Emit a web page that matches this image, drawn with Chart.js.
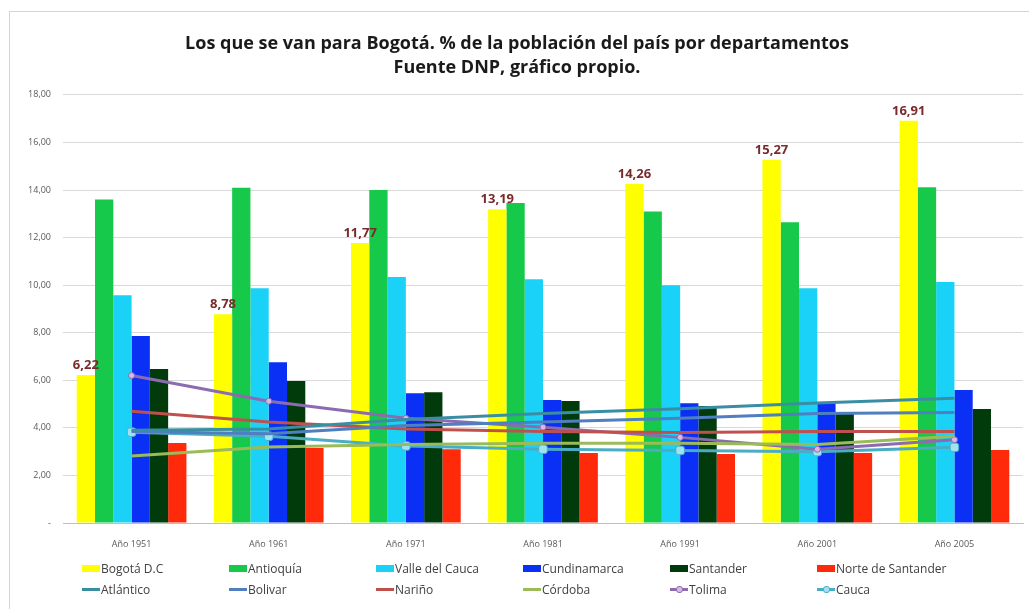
<!DOCTYPE html>
<html>
<head>
<meta charset="utf-8">
<script src="https://cdn.jsdelivr.net/npm/chart.js@4.4.1/dist/chart.umd.min.js"></script>
<style>
  html, body { margin: 0; padding: 0; background: #fff; }
  #wrap { position: relative; width: 1029px; height: 609px; overflow: hidden; }
  #frame { position: absolute; left: 9px; top: 11px; width: 1040px; height: 620px; border: 1px solid #d4d4d4; box-sizing: border-box; }
  canvas { position: absolute; left: 0; top: 0; }
  #legend { position: absolute; left: 82px; top: 560px; display: grid; grid-template-columns: repeat(6, 147px); row-gap: 5px;
            font-family: "Open Sans", sans-serif; font-size: 12px; color: #404040; }
  .item { display: flex; align-items: center; height: 16px; white-space: nowrap; }
  .sw { width: 18px; height: 7px; margin-right: 1px; position: relative; }
  .ln { width: 18px; height: 3px; margin-right: 1px; position: relative; }
  .mk { position: absolute; left: 6px; top: -2px; width: 5px; height: 5px; border-radius: 3px; }
</style>
</head>
<body>
<div id="wrap">
  <div id="frame"></div>
  <canvas id="chart" width="1029" height="609"></canvas>
  <div id="legend"></div>
</div>
<script>
// categories
const years = ["Año 1951", "Año 1961", "Año 1971", "Año 1981", "Año 1991", "Año 2001", "Año 2005"];

// bar series (% of the country's population)
const bogota = [6.22, 8.78, 11.77, 13.19, 14.26, 15.27, 16.91];
const antioquia = [13.6, 14.1, 14.0, 13.45, 13.1, 12.65, 14.12];
const valle = [9.58, 9.87, 10.34, 10.25, 10.0, 9.87, 10.13];
const cundinamarca = [7.86, 6.76, 5.46, 5.17, 5.04, 5.04, 5.59];
const santander = [6.47, 5.97, 5.5, 5.13, 4.92, 4.66, 4.79];
const norteSantander = [3.36, 3.15, 3.1, 2.94, 2.9, 2.94, 3.07];

// line series
const atlantico = [3.9, 3.95, 4.35, 4.6, 4.8, 5.05, 5.25];
const bolivar = [3.85, 3.75, 4.1, 4.25, 4.4, 4.6, 4.65];
const narino = [4.7, 4.25, 3.95, 3.85, 3.8, 3.85, 3.85];
const cordoba = [2.82, 3.2, 3.3, 3.35, 3.35, 3.3, 3.65];
const tolima = [6.2, 5.12, 4.4, 4.03, 3.6, 3.1, 3.5];
const cauca = [3.82, 3.65, 3.24, 3.1, 3.05, 3.0, 3.18];

const yTicks = [0, 2, 4, 6, 8, 10, 12, 14, 16, 18];

function fmt(v) {
  return v.toFixed(2).replace(".", ",");
}

function bar(label, data, color) {
  return { type: "bar", label: label, data: data, backgroundColor: color, borderWidth: 0, order: 1 };
}

function line(label, data, color, marker) {
  return {
    type: "line", label: label, data: data, borderColor: color, backgroundColor: color,
    borderWidth: 3, tension: 0, order: 0,
    pointRadius: marker ? marker.r : 0,
    pointStyle: marker ? marker.style : "circle",
    pointBackgroundColor: marker ? marker.fill : color,
    pointBorderColor: color, pointBorderWidth: 1
  };
}

const datasets = [
  bar("Bogotá D.C", bogota, "#ffff00"),
  bar("Antioquía", antioquia, "#16c94a"),
  bar("Valle del Cauca", valle, "#1ad2f7"),
  bar("Cundinamarca", cundinamarca, "#0a30f5"),
  bar("Santander", santander, "#013b0c"),
  bar("Norte de Santander", norteSantander, "#ff2a0a"),
  line("Atlántico", atlantico, "#3a8ea4"),
  line("Bolivar", bolivar, "#4f7fc0"),
  line("Nariño", narino, "#c0504d"),
  line("Córdoba", cordoba, "#9bbb59"),
  line("Tolima", tolima, "#8c6bb1", { r: 3, style: "circle", fill: "#d9b8e8" }),
  line("Cauca", cauca, "#4bacc6", { r: 5, style: "rectRounded", fill: "#9fe2f2" })
];

// value labels above the Bogotá bars
const barLabels = {
  id: "barLabels",
  afterDatasetsDraw(chart) {
    const ctx = chart.ctx;
    const meta = chart.getDatasetMeta(0);
    ctx.save();
    ctx.font = "bold 13px 'Open Sans', sans-serif";
    ctx.fillStyle = "#7a2a2a";
    ctx.textAlign = "center";
    ctx.textBaseline = "bottom";
    meta.data.forEach((el, i) => {
      ctx.fillText(fmt(bogota[i]), el.x, el.y - 3);
    });
    ctx.restore();
  }
};

const chart = new Chart(document.getElementById("chart"), {
  data: { labels: years, datasets: datasets },
  plugins: [barLabels],
  options: {
    responsive: false,
    animation: false,
    layout: { padding: { left: 9, right: 4, top: 0, bottom: 59 } },
    datasets: { bar: { categoryPercentage: 0.8, barPercentage: 1.0 } },
    plugins: {
      legend: { display: false },
      tooltip: { enabled: false },
      title: {
        display: true,
        text: ["Los que se van para Bogotá. % de la población del país por departamentos", "Fuente DNP, gráfico propio."],
        font: { family: "'Open Sans', sans-serif", size: 18, weight: "bold", lineHeight: 1.33 },
        color: "#1a1a1a",
        padding: { top: 32, bottom: 15 }
      }
    },
    scales: {
      x: {
        grid: { display: false },
        border: { color: "#bfbfbf" },
        ticks: { font: { family: "'Open Sans', sans-serif", size: 9 }, color: "#595959", padding: 8 },
        afterFit: (s) => { s.height = 27; }
      },
      y: {
        min: 0, max: 18,
        afterBuildTicks: (s) => { s.ticks = yTicks.map((v) => ({ value: v })); },
        grid: { color: "#d9d9d9", drawTicks: false },
        border: { display: false },
        ticks: {
          font: { family: "'Open Sans', sans-serif", size: 9 }, color: "#595959", padding: 12,
          callback: (v) => (v === 0 ? "-" : fmt(v))
        },
        afterFit: (s) => { s.width = 54; }
      }
    }
  }
});

// legend, 6 columns x 2 rows, built from the datasets
const legend = document.getElementById("legend");
datasets.forEach((ds) => {
  const item = document.createElement("div");
  item.className = "item";
  const sw = document.createElement("span");
  if (ds.type === "bar") {
    sw.className = "sw";
    sw.style.background = ds.backgroundColor;
  } else {
    sw.className = "ln";
    sw.style.background = ds.borderColor;
    if (ds.pointRadius > 0) {
      const mk = document.createElement("span");
      mk.className = "mk";
      mk.style.background = ds.pointBackgroundColor;
      mk.style.border = "1px solid " + ds.borderColor;
      sw.appendChild(mk);
    }
  }
  const txt = document.createElement("span");
  txt.textContent = ds.label;
  item.appendChild(sw);
  item.appendChild(txt);
  legend.appendChild(item);
});
</script>
</body>
</html>
